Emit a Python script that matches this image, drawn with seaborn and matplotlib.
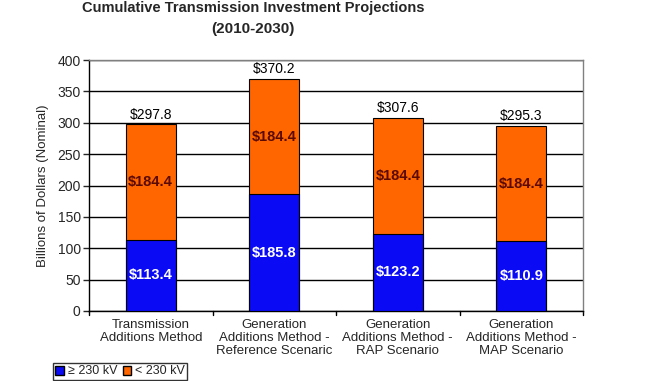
import matplotlib
matplotlib.use("Agg")
import matplotlib.pyplot as plt
import seaborn as sns
import pandas as pd
from matplotlib.patches import Patch

# data
methods = ["Transmission\nAdditions Method",
           "Generation\nAdditions Method -\nReference Scenaric",
           "Generation\nAdditions Method -\nRAP Scenario",
           "Generation\nAdditions Method -\nMAP Scenario"]
high_kv = [113.4, 185.8, 123.2, 110.9]
low_kv = [184.4, 184.4, 184.4, 184.4]
totals = [297.8, 370.2, 307.6, 295.3]

df = pd.DataFrame({"method": methods, "high": high_kv, "low": low_kv, "total": totals})

sns.set_style("white")
plt.rcParams['font.family'] = ['Liberation Sans', 'DejaVu Sans']

blue = "#0A0AF5"
orange = "#FF6600"

fig = plt.figure(figsize=(6.49, 3.81), dpi=100)
ax = fig.add_axes([89/649, 1 - 311/381, (583-89)/649, (311-60)/381])

# stacked: totals in orange, then the >=230 kV part in blue over it
sns.barplot(data=df, x="method", y="total", color=orange, edgecolor="black",
            linewidth=0.8, width=0.405, saturation=1, ax=ax, zorder=3)
sns.barplot(data=df, x="method", y="high", color=blue, edgecolor="black",
            linewidth=0.8, width=0.405, saturation=1, ax=ax, zorder=4)

for i, row in df.iterrows():
    ax.text(i, row["total"] + 4, f"${row['total']:.1f}", ha="center", va="bottom",
            fontsize=10, color="black")
    ax.text(i, row["high"] + row["low"] / 2, f"${row['low']:.1f}", ha="center",
            va="center", fontsize=10.5, fontweight="bold", color="#5a0a00", zorder=5)
    ax.text(i, row["high"] / 2, f"${row['high']:.1f}", ha="center", va="center",
            fontsize=10.5, fontweight="bold", color="white", zorder=5)

ax.set_ylim(0, 400)
ax.set_xlim(-0.5, 3.5)
ax.set_yticks(range(0, 401, 50))
ax.yaxis.grid(True, color="black", linewidth=1)
ax.set_axisbelow(True)
ax.tick_params(axis="y", labelsize=10, length=4, width=1, left=True, direction="out", pad=2)
ax.set_xticks([0, 1, 2, 3])
ax.set_xticklabels(methods, fontsize=9.5, linespacing=1.1)
ax.tick_params(axis="x", length=0, pad=6)
for b in [-0.5, 0.5, 1.5, 2.5, 3.5]:
    ax.plot([b, b], [0, -6], color="black", lw=1, clip_on=False)
ax.set_xlabel("")
ax.set_ylabel("Billions of Dollars (Nominal)", fontsize=9.5, labelpad=6)

for s in ["left", "bottom"]:
    ax.spines[s].set_color("black")
    ax.spines[s].set_linewidth(1)
for s in ["top", "right"]:
    ax.spines[s].set_color("#808080")
    ax.spines[s].set_linewidth(1)

fig.text(253/649, 1 - 8/381, "Cumulative Transmission Investment Projections",
         ha="center", va="center", fontsize=10.5, fontweight="bold")
fig.text(253/649, 1 - 29/381, "(2010-2030)", ha="center", va="center",
         fontsize=11, fontweight="bold")

handles = [Patch(facecolor=blue, edgecolor="black", label="\u2265 230 kV"),
           Patch(facecolor=orange, edgecolor="black", label="< 230 kV")]
leg = fig.legend(handles=handles, loc="lower left", bbox_to_anchor=(53/649, 1/381),
                 ncol=2, fontsize=9, frameon=True, fancybox=False,
                 handlelength=0.7, handleheight=0.7, handletextpad=0.3,
                 columnspacing=0.4, borderpad=0.2, borderaxespad=0)
leg.get_frame().set_edgecolor("black")
leg.get_frame().set_linewidth(1)

fig.savefig("out.png", dpi=100)
